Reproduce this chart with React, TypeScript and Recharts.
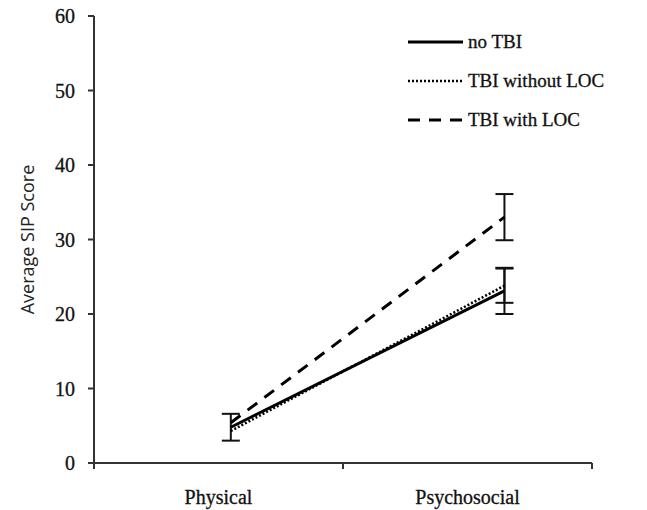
import { LineChart, Line, XAxis, YAxis, ErrorBar, Legend, Label } from 'recharts'

const categories = ['Physical', 'Psychosocial']
const noTbi = [4.8, 23.1]
const noTbiErr = [1.8, 3.1]
const tbiNoLoc = [4.3, 23.8]
const tbiNoLocErr = [null, 2.3]
const tbiLoc = [5.4, 33.0]
const tbiLocErr = [null, 3.1]
const yTicks = [0, 10, 20, 30, 40, 50, 60]
const xBounds = [0, 1, 2]

const series = [
    { key: 'noTbi', name: 'no TBI', dash: undefined as string | undefined, width: 3 },
    { key: 'tbiNoLoc', name: 'TBI without LOC', dash: '2 2', width: 2.5 },
    { key: 'tbiLoc', name: 'TBI with LOC', dash: '12 9', width: 3 },
]

const data = categories.map((name, i) => ({
    name,
    x: i,
    noTbi: noTbi[i],
    noTbiErr: noTbiErr[i],
    tbiNoLoc: tbiNoLoc[i],
    tbiNoLocErr: tbiNoLocErr[i],
    tbiLoc: tbiLoc[i],
    tbiLocErr: tbiLocErr[i],
}))

const SERIF = '"Liberation Serif", "Times New Roman", serif'
const SANS = '"Open Sans", "Noto Sans", sans-serif'

const W = 631
const H = 510
const LEFT = 86
const RIGHT = 47
const HALF_BAND = (W - LEFT - RIGHT) / 4

function XTick(props: any) {
    const { x, y, payload } = props
    const label = categories[payload.value]
    if (!label) return null
    return (
        <text
            x={x + HALF_BAND}
            y={y}
            dy="0.71em"
            textAnchor="middle"
            fontFamily={SERIF}
            fontSize={20}
            fill="#111"
            stroke="#111"
            strokeWidth={0.3}
        >
            {label}
        </text>
    )
}

function LegendBox() {
    return (
        <div style={{ fontFamily: SERIF, fontSize: 19, color: '#111', WebkitTextStroke: '0.3px #111' }}>
            {series.map((s) => (
                <div key={s.key} style={{ display: 'flex', alignItems: 'center', height: 39 }}>
                    <svg width={58} height={10}>
                        <line x1={1} x2={56} y1={5} y2={5} stroke="#000" strokeWidth={s.width} strokeDasharray={s.dash} />
                    </svg>
                    <span style={{ marginLeft: 3 }}>{s.name}</span>
                </div>
            ))}
        </div>
    )
}

export default function App() {
    return (
        <div style={{ marginTop: -8 }}>
            <LineChart width={W} height={H} data={data} margin={{ top: 16, right: RIGHT, bottom: 0, left: 0 }}>
                <XAxis
                    dataKey="x"
                    type="number"
                    domain={[0, 2]}
                    ticks={xBounds}
                    allowDataOverflow
                    interval={0}
                    height={47}
                    tick={<XTick />}
                    tickSize={6}
                    tickMargin={21}
                    stroke="#333"
                    strokeWidth={2}
                />
                <XAxis xAxisId="data" dataKey="x" type="number" domain={[-0.5, 1.32]} allowDataOverflow hide />
                <YAxis
                    domain={[0, 60]}
                    ticks={yTicks}
                    interval={0}
                    width={LEFT}
                    tickSize={6}
                    tickMargin={13}
                    stroke="#333"
                    strokeWidth={2}
                    tick={{ fontFamily: SERIF, fontSize: 20, fill: '#111', stroke: '#111', strokeWidth: 0.3 }}
                >
                    <Label
                        content={(p: any) => {
                            const vb = p.viewBox
                            const cx = vb.x + 19
                            const cy = vb.y + vb.height / 2
                            return (
                                <text
                                    x={cx}
                                    y={cy}
                                    transform={`rotate(-90, ${cx}, ${cy})`}
                                    textAnchor="middle"
                                    dominantBaseline="central"
                                    fontFamily={SANS}
                                    fontSize={18}
                                    fill="#222"
                                >
                                    Average SIP Score
                                </text>
                            )
                        }}
                    />
                </YAxis>
                <Legend
                    layout="vertical"
                    align="center"
                    verticalAlign="middle"
                    content={<LegendBox />}
                    wrapperStyle={{ top: 22, left: 399, width: 230 }}
                />
                {series.map((s) => (
                    <Line
                        key={s.key}
                        xAxisId="data"
                        dataKey={s.key}
                        name={s.name}
                        stroke="#000"
                        strokeWidth={s.width}
                        strokeDasharray={s.dash}
                        dot={false}
                        activeDot={false}
                        isAnimationActive={false}
                    >
                        <ErrorBar dataKey={`${s.key}Err`} width={9} strokeWidth={2} stroke="#111" direction="y" />
                    </Line>
                ))}
            </LineChart>
        </div>
    )
}
